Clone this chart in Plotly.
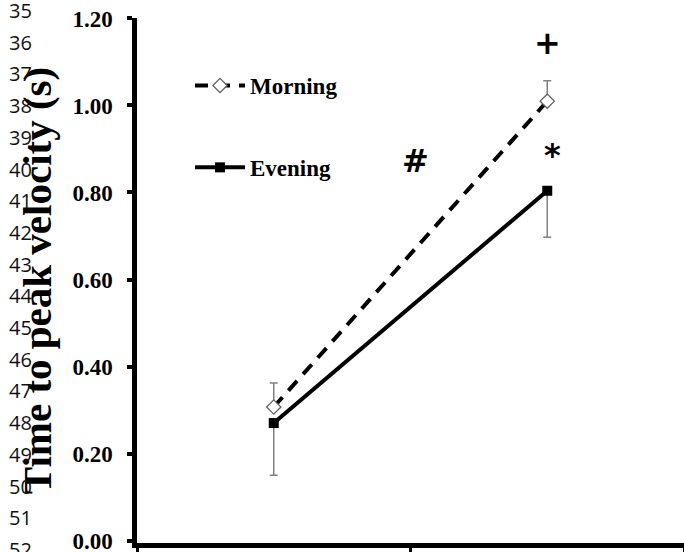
import plotly.graph_objects as go

# ---- data ----
categories = ["Pre", "Post"]
morning = [0.307, 1.010]
morning_err_up = [0.055, 0.047]
evening = [0.270, 0.804]
evening_err_down = [0.120, 0.107]
y_ticks = [0.0, 0.2, 0.4, 0.6, 0.8, 1.0, 1.2]
line_numbers = list(range(35, 53))
sig_marks = [("+", 1, 1.144), ("*", 1.02, 0.887), ("#", 0.52, 0.872)]

W, H = 684, 552
ML, MR, MT, MB = 137, 0, 18, 9
PW, PH = W - ML - MR, H - MT - MB

def px_x(px):
    return (px - ML) / PW

def px_y(py):
    return 1 - (py - MT) / PH

serif = "Liberation Serif"

fig = go.Figure()
fig.add_trace(go.Scatter(
    x=categories, y=morning, name="Morning", mode="lines+markers",
    legendgroup="m",
    line=dict(color="black", width=4, dash="13px,9px"),
    marker=dict(symbol="diamond", size=11, color="white",
                line=dict(color="#606060", width=1.3)),
    error_y=dict(type="data", symmetric=False, array=morning_err_up,
                 arrayminus=[0, 0], color="#808080", thickness=1.5, width=4),
))
fig.add_trace(go.Scatter(
    x=categories, y=evening, name="Evening", mode="lines+markers",
    legendgroup="e",
    line=dict(color="black", width=4),
    marker=dict(symbol="square", size=10, color="black"),
    error_y=dict(type="data", symmetric=False, array=[0, 0],
                 arrayminus=evening_err_down, color="#808080", thickness=1.5, width=4),
))

annotations = []
for i, n in enumerate(line_numbers):
    annotations.append(dict(
        text=str(n), xref="paper", yref="paper",
        x=px_x(7), y=px_y(10.5 + i * 31.7), xanchor="left", yanchor="middle",
        showarrow=False, font=dict(family="Open Sans", size=20, color="#111111"),
    ))
for txt, xv, yv in sig_marks:
    annotations.append(dict(
        text=txt, x=xv, y=yv, xref="x", yref="y", showarrow=False,
        xanchor="center", yanchor="middle",
        font=dict(family="DejaVu Sans", size=32, color="black", weight="bold"),
    ))

fig.update_layout(
    width=W, height=H,
    margin=dict(l=ML, r=MR, t=MT, b=MB, pad=0, autoexpand=False),
    paper_bgcolor="white", plot_bgcolor="white",
    showlegend=True,
    legend=dict(x=px_x(190), y=px_y(64), xanchor="left", yanchor="top",
                bgcolor="rgba(0,0,0,0)", tracegroupgap=49, traceorder="grouped",
                itemwidth=50,
                font=dict(family=serif, size=23, color="black", weight="bold")),
    annotations=annotations,
    xaxis=dict(type="category", range=[-0.5, 1.5], showticklabels=False,
               automargin=False,
               showline=True, linecolor="black", linewidth=5,
               ticks="outside", tickson="boundaries", ticklen=8, tickwidth=3,
               tickcolor="black", showgrid=False, zeroline=False, fixedrange=True),
    yaxis=dict(range=[-0.0057, 1.2011], tickvals=y_ticks, tickformat=".2f",
               automargin=False, ticklabeloverflow="allow",
               showline=True, linecolor="black", linewidth=4.5,
               ticks="outside", ticklen=5, tickwidth=4, tickcolor="black",
               ticklabelstandoff=10,
               tickfont=dict(family=serif, size=23, color="black", weight="bold"),
               showgrid=False, zeroline=False,
               title=dict(text="Time to peak velocity (s)", standoff=10,
                          font=dict(family=serif, size=41, color="black", weight="bold"))),
)

fig.write_html("out.html", config={"displayModeBar": False},
               post_script="document.body.style.margin='0';document.body.style.overflow='hidden';")
